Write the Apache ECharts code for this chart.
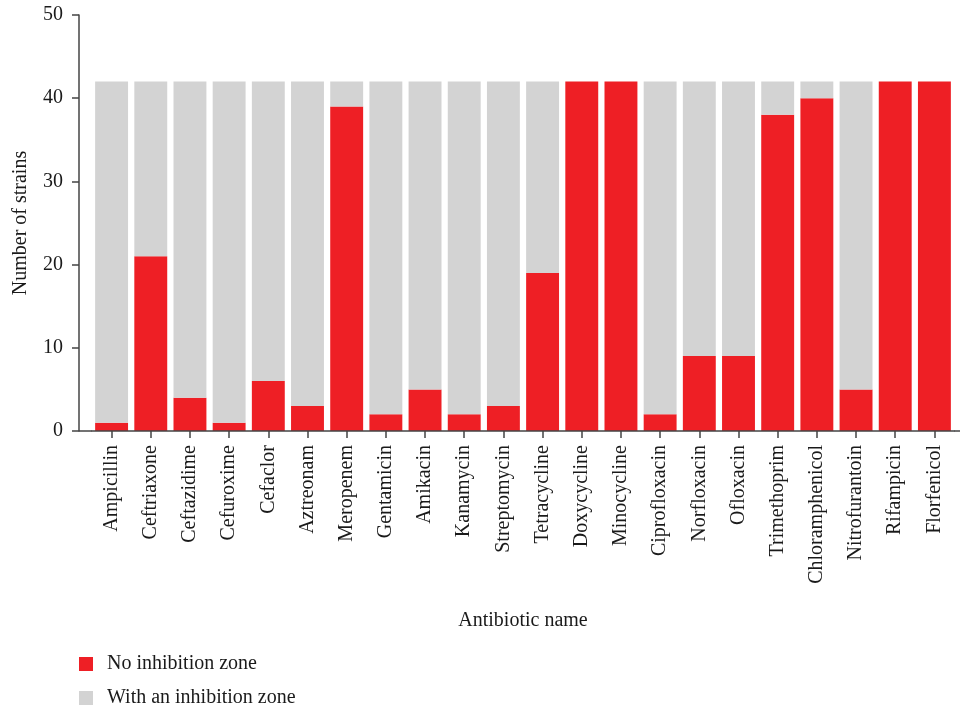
<!DOCTYPE html>
<html>
<head>
<meta charset="utf-8">
<script src="https://cdn.jsdelivr.net/npm/echarts@6/dist/echarts.min.js"></script>
<style>html,body{margin:0;padding:0;background:#fff;}#c{width:960px;height:709px;}</style>
</head>
<body>
<div id="c"></div>
<script>
const categories = ["Ampicillin","Ceftriaxone","Ceftazidime","Cefuroxime","Cefaclor","Aztreonam","Meropenem","Gentamicin","Amikacin","Kanamycin","Streptomycin","Tetracycline","Doxycycline","Minocycline","Ciprofloxacin","Norfloxacin","Ofloxacin","Trimethoprim","Chloramphenicol","Nitrofurantoin","Rifampicin","Florfenicol"];
const noInhibition = [1,21,4,1,6,3,39,2,5,2,3,19,42,42,2,9,9,38,40,5,42,42];
const withInhibition = [41,21,38,41,36,39,3,40,37,40,39,23,0,0,40,33,33,4,2,37,0,0];
const yTicks = {min:0, max:50, interval:10};
const seriesNames = ["No inhibition zone","With an inhibition zone"];

const FONT = "Liberation Serif";
const GL = 92, GR = 6, GT = 15, GB = 278;
const chart = echarts.init(document.getElementById('c'));
chart.setOption({
  animation:false,
  textStyle:{fontFamily:FONT},
  grid:{left:GL, right:GR, top:GT, bottom:GB},
  legend:{
    orient:'vertical', left:79, top:654, padding:0,
    icon:'rect', itemWidth:14, itemHeight:14, itemGap:14,
    textStyle:{fontFamily:FONT, fontSize:20, color:'#1a1a1a', lineHeight:20, padding:[0,0,0,9]},
    data:seriesNames
  },
  xAxis:{
    type:'category', data:categories, z:10,
    name:'Antibiotic name', nameLocation:'middle', nameGap:180,
    nameTextStyle:{fontFamily:FONT, fontSize:20, color:'#1a1a1a'},
    axisLine:{show:true, lineStyle:{color:'#444', width:1.5}},
    axisTick:{show:true, alignWithLabel:true, length:7, lineStyle:{color:'#444', width:1.5}},
    axisLabel:{rotate:90, margin:14, fontFamily:FONT, fontSize:20, color:'#1a1a1a', interval:0}
  },
  yAxis:{
    type:'value', min:yTicks.min, max:yTicks.max, interval:yTicks.interval, offset:13,
    name:'Number of strains', nameLocation:'middle', nameGap:48,
    nameTextStyle:{fontFamily:FONT, fontSize:20, color:'#1a1a1a'},
    axisLine:{show:true, lineStyle:{color:'#444', width:1.5}},
    axisTick:{show:true, length:7, lineStyle:{color:'#444', width:1.5}},
    axisLabel:{margin:16, fontFamily:FONT, fontSize:20, color:'#1a1a1a'},
    splitLine:{show:false}
  },
  series:[
    {name:seriesNames[0], type:'bar', stack:'s', data:noInhibition, barCategoryGap:'16%', itemStyle:{color:'#EE1F25'}},
    {name:seriesNames[1], type:'bar', stack:'s', data:withInhibition, barCategoryGap:'16%', itemStyle:{color:'#D3D3D3'}}
  ],
  graphic:[
    {type:'line', z:100, shape:{x1:79, y1:709-GB, x2:GL, y2:709-GB}, style:{stroke:'#444', lineWidth:1.5}},
    {type:'line', z:100, shape:{x1:960-GR, y1:709-GB, x2:960, y2:709-GB}, style:{stroke:'#444', lineWidth:1.5}}
  ]
});
</script>
</body>
</html>
